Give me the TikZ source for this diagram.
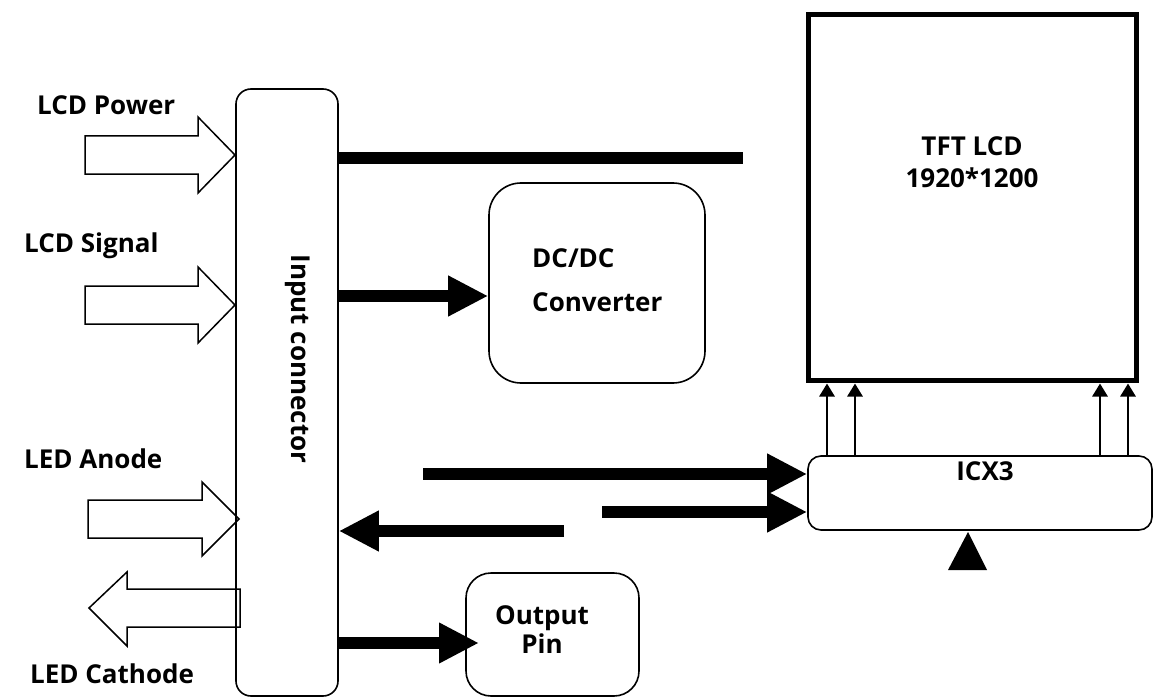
\documentclass[tikz,border=0pt]{standalone}
\usepackage{fontspec}
\setmainfont{Open Sans}
\usetikzlibrary{arrows.meta}
\begin{document}
\begin{tikzpicture}[x=1pt,y=-1pt,
  lbl/.style={font=\bfseries\fontsize{26}{30}\selectfont, inner sep=0pt},
  rbox/.style={draw, line width=1.6pt, rounded corners=#1, inner sep=0pt},
  bigarrow/.style={line width=12pt, -{Triangle[length=40pt,width=38pt]}},
  thinarrow/.style={line width=2.8pt, -{Triangle[length=13pt,width=15pt]}},
  hollow/.style={draw, line width=1.5pt, fill=white, line join=miter}]
\useasboundingbox (0,0) rectangle (1154,698);

% block arrows (drawn first, connector outline on top)
\draw[hollow] (85,136)--(198,136)--(198,117)--(235,155)--(198,193)--(198,174)--(85,174)--cycle;
\draw[hollow] (85,286)--(198,286)--(198,267)--(235,305)--(198,343)--(198,324)--(85,324)--cycle;
\draw[hollow] (88,500)--(202,500)--(202,482)--(239,519)--(202,556)--(202,538)--(88,538)--cycle;
\draw[hollow] (240,589)--(127,589)--(127,572)--(89,608)--(127,646)--(127,627)--(240,627)--cycle;

% boxes
\node[rbox=15pt, minimum width=102pt, minimum height=607pt] (inc) at (287,392.5) {};
\node[lbl, rotate=-90] (inct) at (298,359) {Input connector};
\node[rbox=32pt, minimum width=216pt, minimum height=200pt] (dc) at (597,283) {};
\node[rbox=25pt, minimum width=173pt, minimum height=123pt] (op) at (552.5,634.5) {};
\node[draw, line width=5pt, inner sep=0pt, minimum width=328pt, minimum height=365pt] (tft) at (972.5,197.5) {};
\node[rbox=13pt, minimum width=344pt, minimum height=74pt] (icx) at (980,493) {};

% texts
\node[lbl, anchor=base west] (l1) at (37,115) {LCD Power};
\node[lbl, anchor=base west] (l2) at (24,252) {LCD Signal};
\node[lbl, anchor=base west] (l3) at (24,468) {LED Anode};
\node[lbl, anchor=base west] (l4) at (30,683) {LED Cathode};
\node[lbl, align=left, anchor=west, font=\bfseries\fontsize{26}{44}\selectfont] (dct) at (532,280.5) {DC/DC\\Converter};
\node[lbl, align=center, font=\bfseries\fontsize{26}{32}\selectfont] (tftt) at (972,162.5) {TFT LCD\\1920*1200};
\node[lbl, align=center, font=\bfseries\fontsize{26}{29}\selectfont] (opt) at (542,630) {Output\\Pin};
\node[lbl, anchor=base] (icxt) at (985,480) {ICX3};

% connector end points
\coordinate (top1) at (inc.east |- 0,158);
\coordinate (top2) at (743,158);
\coordinate (a1) at (inc.east |- 0,296);
\coordinate (a2) at (dc.west |- 0,296);
\coordinate (b1) at (423,474);
\coordinate (b2) at (icx.west |- 0,474);
\coordinate (c1) at (602,512);
\coordinate (c2) at (icx.west |- 0,512);
\coordinate (d1) at (564,531);
\coordinate (d2) at (inc.east |- 0,531);
\coordinate (e1) at (inc.east |- 0,643);
\coordinate (e2) at (479,643);

\draw[line width=12pt] (top1) -- (top2);
\draw[bigarrow] (a1) -- (a2);
\draw[bigarrow] (b1) -- (b2);
\draw[bigarrow] (c1) -- (c2);
\draw[bigarrow] (d1) -- (d2);
\draw[bigarrow] (e1) -- (e2);

% small arrows up to TFT
\foreach \xx in {827,855,1100,1128}{
  \draw[thinarrow] (icx.north -| \xx,0) -- ([yshift=-1pt]tft.south -| \xx,0);
}

% triangle under ICX3
\fill (968,532) -- (987,570) -- (948,570) -- cycle;
\end{tikzpicture}
\end{document}
